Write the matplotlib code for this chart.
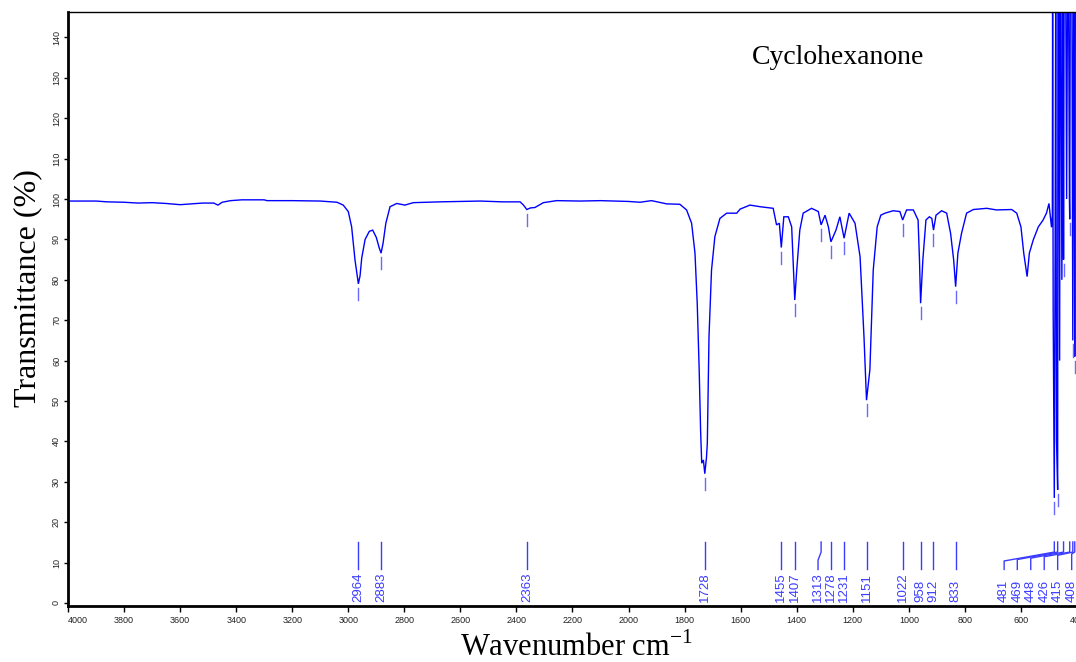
import numpy as np
import matplotlib
matplotlib.use("Agg")
import matplotlib.pyplot as plt

plt.rcParams['mathtext.fontset'] = 'custom'
plt.rcParams['mathtext.rm'] = 'Liberation Serif'

# ---------------- data ----------------
wavenumber = [4000, 3900, 3860, 3800, 3750, 3700, 3650, 3600, 3560, 3520, 3480, 3465, 3450, 3420,
              3380, 3300, 3290, 3200, 3100, 3040, 3018, 3000, 2988, 2976, 2964, 2958, 2952, 2940,
              2925, 2913, 2900, 2890, 2883, 2876, 2866, 2851, 2827, 2798, 2768, 2673, 2600, 2530,
              2450, 2387, 2375, 2363, 2350, 2334, 2304, 2257, 2173, 2100, 2000, 1959, 1918, 1864,
              1817, 1793, 1775, 1763, 1755, 1748, 1743, 1739, 1733, 1728, 1722, 1719, 1713, 1704,
              1692, 1674, 1650, 1614, 1602, 1567, 1531, 1484, 1472, 1462, 1455, 1446, 1430, 1418,
              1407, 1400, 1389, 1377, 1347, 1323, 1313, 1299, 1287, 1278, 1260, 1246, 1231, 1213,
              1192, 1174, 1160, 1151, 1139, 1127, 1113, 1100, 1085, 1056, 1032, 1022, 1008, 984,
              967, 962, 958, 950, 939, 927, 918, 912, 903, 883, 865, 851, 840, 833, 825, 812, 794,
              770, 722, 687, 633, 615, 600, 590, 578, 570, 556, 538, 521, 509, 500, 495, 491, 488,
              487, 485, 482, 481, 478, 476, 473, 469, 468, 465, 462, 460, 457, 454, 450, 448, 446,
              440, 437, 434, 430, 427, 426, 424, 418, 415, 412, 410, 408, 406, 402, 400]
transmittance = [99.5, 99.5, 99.3, 99.2, 99.0, 99.1, 98.9, 98.6, 98.8, 99.0, 99.0, 98.5, 99.2, 99.6,
                 99.8, 99.8, 99.6, 99.6, 99.5, 99.2, 98.5, 96.9, 93.1, 84.9, 79.0, 81.0, 85.4, 90.0,
                 92.0, 92.3, 90.5, 88.0, 86.6, 89.0, 94.0, 98.1, 98.9, 98.5, 99.1, 99.3, 99.4, 99.5,
                 99.3, 99.3, 98.5, 97.4, 97.8, 97.9, 99.1, 99.6, 99.5, 99.6, 99.4, 99.2, 99.6, 98.8,
                 98.7, 97.3, 94.0, 86.6, 74.2, 57.7, 42.8, 34.6, 35.4, 32.0, 36.0, 39.5, 65.9, 82.4,
                 90.7, 95.2, 96.5, 96.5, 97.5, 98.5, 98.1, 97.7, 93.6, 94.0, 88.0, 95.6, 95.6, 93.1,
                 75.0, 82.4, 92.3, 96.5, 97.7, 96.9, 93.6, 96.0, 93.1, 89.4, 92.3, 95.6, 90.3, 96.5,
                 94.0, 85.7, 65.9, 50.2, 57.7, 82.4, 93.1, 96.0, 96.5, 97.1, 96.9, 94.8, 97.3, 97.3,
                 94.8, 84.9, 74.2, 84.9, 94.8, 95.6, 95.2, 92.3, 96.0, 97.1, 96.5, 91.5, 84.9, 78.3,
                 86.6, 91.5, 96.5, 97.4, 97.7, 97.3, 97.4, 96.5, 93.1, 86.6, 80.8, 86.6, 89.9, 93.1,
                 94.8, 96.5, 98.9, 95.6, 93.0, 96.0, 150, 72, 40, 26.0, 90, 150, 40, 28.0, 150, 150,
                 60, 150, 150, 80, 150, 85.0, 150, 150, 100, 150, 150, 100, 95.0, 150, 150, 65.0,
                 150, 150, 61.0, 150, 150, 150]

peak_labels = [2964, 2883, 2363, 1728, 1455, 1407, 1313, 1278, 1231, 1151, 1022, 958, 912, 833,
               481, 469, 448, 426, 415, 408]
# where the text of each label sits (wavenumber), when it is moved off the peak
label_text_pos = [2964, 2883, 2363, 1728, 1455, 1407, 1324, 1278, 1231, 1151, 1022, 958, 912, 833,
                  660, 613, 565, 517, 469, 419]

x_ticks = list(range(4000, 399, -200))
y_ticks = list(range(0, 141, 10))

# ---------------- figure ----------------
W, H = 1076, 662
fig = plt.figure(figsize=(W / 100, H / 100), dpi=100)
ax = fig.add_axes([68 / W, 1 - 606 / H, (1077 - 68) / W, (606 - 12) / H])
ax.set_xlim(4000, 400)
ax.set_ylim(-0.75, 146.3)

ax.plot(wavenumber, transmittance, color='#0000ff', lw=1.0, solid_joinstyle='miter')

lab_col = '#3c3cff'
wn_arr = np.array(wavenumber[::-1], dtype=float)
t_arr = np.array(transmittance[::-1], dtype=float)
j = 0
for pk, tx in zip(peak_labels, label_text_pos):
    tmin = float(np.interp(pk, wn_arr, t_arr))
    # short marker under the peak
    ax.plot([pk, pk], [tmin - 1.0, tmin - 4.0], color='#6a6aff', lw=1.0)
    if tx == pk:
        ax.plot([pk, pk], [8.3, 15.1], color=lab_col, lw=1.0)
    else:
        c1 = 10.4 + 0.35 * j if pk < 500 else 10.6
        ax.plot([tx, tx, pk, pk], [8.3, c1, 12.6, 15.1], color=lab_col, lw=1.0)
        if pk < 500:
            j += 1
    ax.text(tx, 0.2, str(pk), rotation=90, ha='center', va='bottom',
            fontsize=9.5, color=lab_col, family='Liberation Sans')

ax.text((752 - 68) / 1009, (606 - 58) / 594, 'Cyclohexanone', transform=ax.transAxes,
        ha='left', va='center', fontsize=20, family='Liberation Serif', color='black')

ax.set_xticks(x_ticks)
ax.set_xticklabels([str(v) for v in x_ticks], fontsize=6.5, color='#222222',
                   family='Liberation Sans')
ax.get_xticklabels()[0].set_horizontalalignment('left')
ax.set_yticks(y_ticks)
ax.set_yticklabels([str(v) for v in y_ticks], fontsize=6.5, color='#222222',
                   family='Liberation Sans', rotation=90, va='center')
ax.tick_params(axis='x', direction='out', length=4, width=1, pad=3)
ax.tick_params(axis='y', direction='out', length=3, width=1, pad=2)

for s in ['left', 'bottom']:
    ax.spines[s].set_linewidth(2)
ax.spines['top'].set_linewidth(1)
ax.spines['right'].set_visible(False)

fig.text(28 / W, 1 - 288 / H, 'Transmittance (%)', rotation=90, ha='center', va='center',
         fontsize=23, family='Liberation Serif')
fig.text(576 / W, 1 - 648 / H, r'Wavenumber cm$^{\mathregular{-1}}$', ha='center', va='center',
         fontsize=22, family='Liberation Serif')

fig.savefig('out.png', dpi=100)
